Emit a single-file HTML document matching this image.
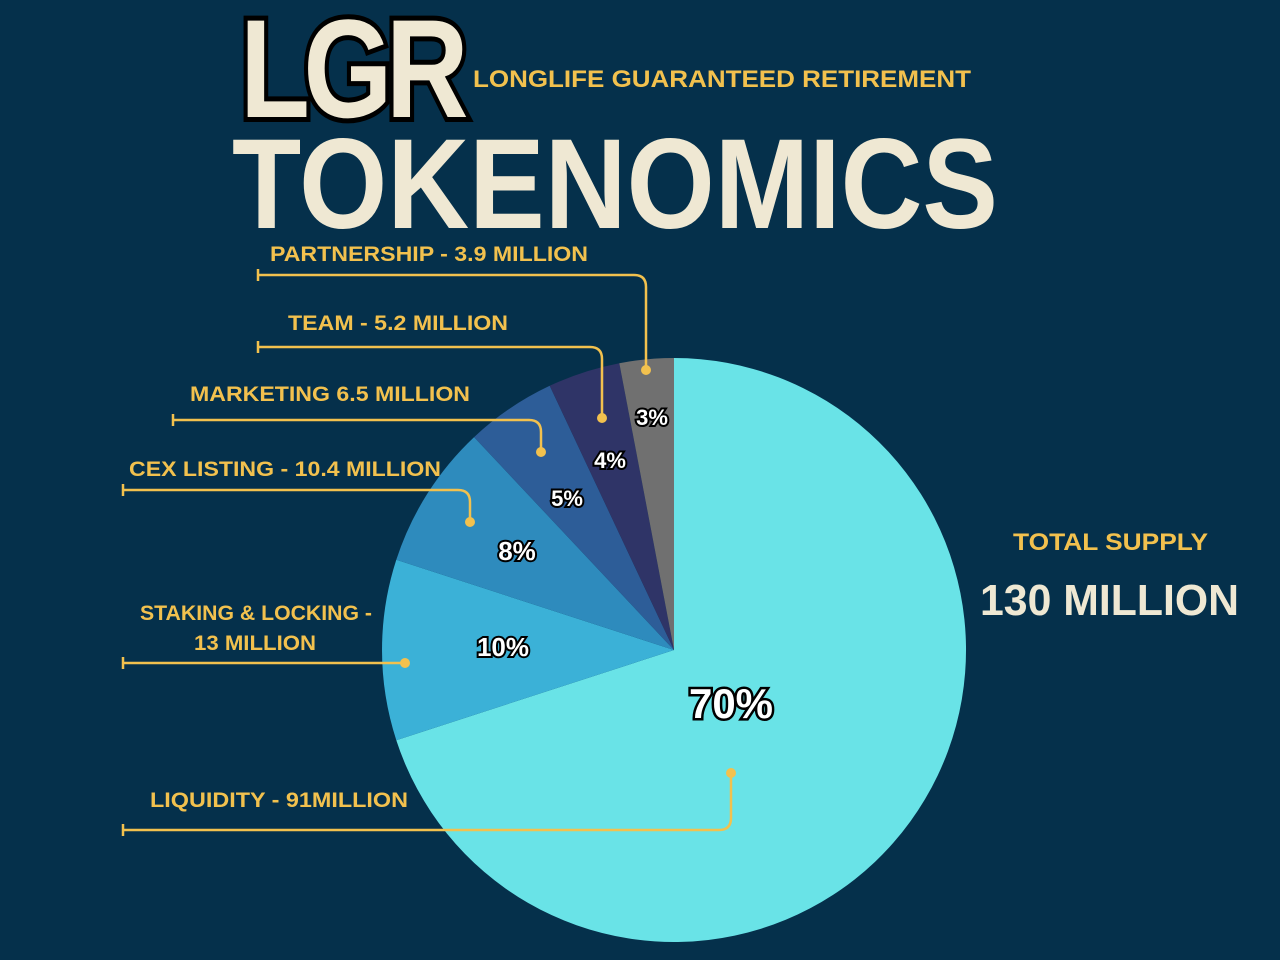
<!DOCTYPE html>
<html><head><meta charset="utf-8"><style>html,body{margin:0;padding:0;background:#05304b;}svg{display:block}</style></head>
<body>
<svg width="1280" height="960" viewBox="0 0 1280 960" xmlns="http://www.w3.org/2000/svg" font-family="Liberation Sans, sans-serif" font-weight="bold">
<rect width="1280" height="960" fill="#05304b"/>
<!-- header -->
<text x="240" y="117" font-size="140" textLength="222" lengthAdjust="spacingAndGlyphs" fill="#efe8d3" stroke="#000" stroke-width="10" paint-order="stroke" letter-spacing="-8">LGR</text>
<text x="473" y="87" font-size="24" fill="#f2c14e" textLength="498" lengthAdjust="spacingAndGlyphs">LONGLIFE GUARANTEED RETIREMENT</text>
<text x="232" y="228" font-size="128" fill="#efe8d3" textLength="766" lengthAdjust="spacingAndGlyphs">TOKENOMICS</text>
<!-- pie -->
<path d="M674,650 L674,358 A292,292 0 1,1 396.3,740.2 Z" fill="#69e3e7"/>
<path d="M674,650 L396.3,740.2 A292,292 0 0,1 396.3,559.8 Z" fill="#3bb1d7"/>
<path d="M674,650 L396.3,559.8 A292,292 0 0,1 474.1,437.1 Z" fill="#2e8bbd"/>
<path d="M674,650 L474.1,437.1 A292,292 0 0,1 549.7,385.8 Z" fill="#2d5d98"/>
<path d="M674,650 L549.7,385.8 A292,292 0 0,1 619.3,363.2 Z" fill="#2f3467"/>
<path d="M674,650 L619.3,363.2 A292,292 0 0,1 674,358 Z" fill="#707070"/>
<!-- leader lines -->
<g stroke="#f2c14e" stroke-width="2.5" fill="none">
<path d="M258,275 H634 Q646,275 646,287 V370"/><path d="M258,269 V281"/>
<path d="M258,347 H590 Q602,347 602,359 V418"/><path d="M258,341 V353"/>
<path d="M173,420 H529 Q541,420 541,432 V452"/><path d="M173,414 V426"/>
<path d="M123,490 H458 Q470,490 470,502 V522"/><path d="M123,484 V496"/>
<path d="M123,663 H405"/><path d="M123,657 V669"/>
<path d="M123,830 H719 Q731,830 731,818 V773"/><path d="M123,824 V836"/>
</g>
<g fill="#f2c14e">
<circle cx="646" cy="370" r="5"/><circle cx="602" cy="418" r="5"/><circle cx="541" cy="452" r="5"/>
<circle cx="470" cy="522" r="5"/><circle cx="405" cy="663" r="5"/><circle cx="731" cy="773" r="5"/>
</g>
<g fill="#f2c14e" font-size="21">
<text x="270" y="261" textLength="318" lengthAdjust="spacingAndGlyphs">PARTNERSHIP - 3.9 MILLION</text>
<text x="288" y="330" textLength="220" lengthAdjust="spacingAndGlyphs">TEAM - 5.2 MILLION</text>
<text x="190" y="401" textLength="280" lengthAdjust="spacingAndGlyphs">MARKETING 6.5 MILLION</text>
<text x="129" y="476" textLength="312" lengthAdjust="spacingAndGlyphs">CEX LISTING - 10.4 MILLION</text>
<text x="140" y="620" textLength="232" lengthAdjust="spacingAndGlyphs">STAKING &amp; LOCKING -</text>
<text x="194" y="650" textLength="122" lengthAdjust="spacingAndGlyphs">13 MILLION</text>
<text x="150" y="807" textLength="258" lengthAdjust="spacingAndGlyphs">LIQUIDITY - 91MILLION</text>
<text x="1013" y="550" font-size="24" textLength="195" lengthAdjust="spacingAndGlyphs">TOTAL SUPPLY</text>
</g>
<text x="980" y="615" font-size="44" fill="#efe8d3" textLength="259" lengthAdjust="spacingAndGlyphs">130 MILLION</text>
<!-- percent labels -->
<g fill="#fff" stroke="#000" stroke-width="4" paint-order="stroke" text-anchor="middle">
<text x="652" y="425" font-size="22">3%</text>
<text x="610" y="468" font-size="22">4%</text>
<text x="567" y="506" font-size="22">5%</text>
<text x="517" y="560" font-size="26">8%</text>
<text x="503" y="656" font-size="26">10%</text>
<text x="731" y="718" font-size="42" stroke-width="5">70%</text>
</g>
</svg>
</body></html>
